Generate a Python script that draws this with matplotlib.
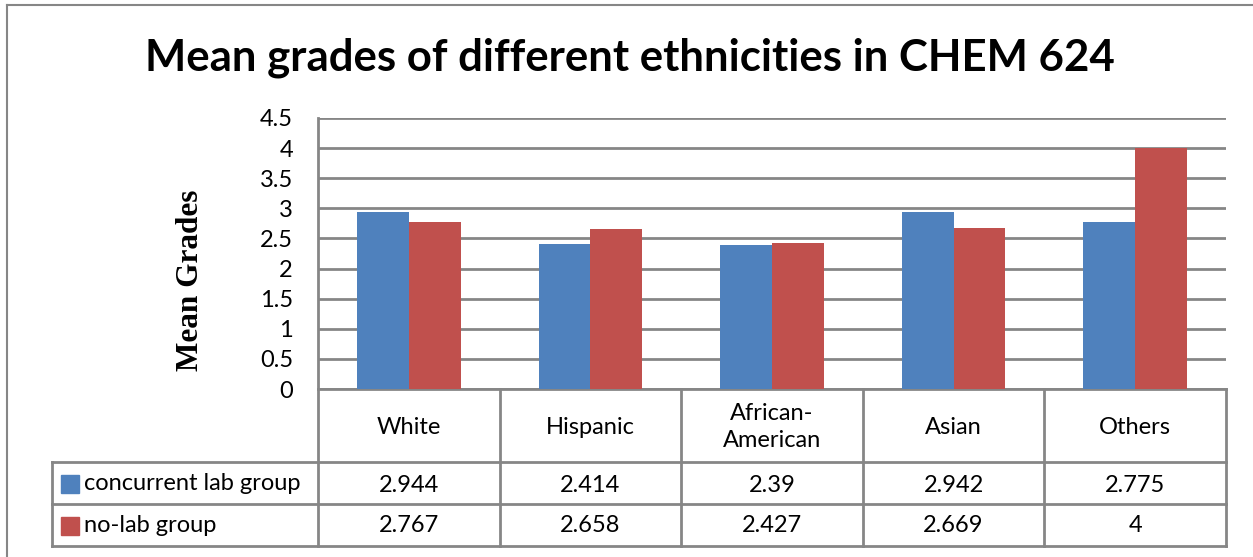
import matplotlib
matplotlib.use("Agg")
import matplotlib.pyplot as plt
from matplotlib.lines import Line2D
import numpy as np

categories = ["White", "Hispanic", "African-\nAmerican", "Asian", "Others"]
series_names = ["concurrent lab group", "no-lab group"]
concurrent = [2.944, 2.414, 2.39, 2.942, 2.775]
nolab = [2.767, 2.658, 2.427, 2.669, 4]
table_concurrent = ["2.944", "2.414", "2.39", "2.942", "2.775"]
table_nolab = ["2.767", "2.658", "2.427", "2.669", "4"]
yticks = [0, 0.5, 1, 1.5, 2, 2.5, 3, 3.5, 4, 4.5]
ytick_labels = ["0", "0.5", "1", "1.5", "2", "2.5", "3", "3.5", "4", "4.5"]

colors = ["#4F81BD", "#C0504D"]
grid_c = "#868686"
FONT = "Lato"
FS = 17

W, H = 1253, 557
fig = plt.figure(figsize=(W / 100, H / 100), dpi=100)
fig.patch.set_facecolor("white")

# overlay axes in pixel coords
ov = fig.add_axes([0, 0, 1, 1])
ov.set_xlim(0, W)
ov.set_ylim(H, 0)
ov.axis("off")

def px_rect(x0, y0, x1, y1):
    return [x0 / W, 1 - y1 / H, (x1 - x0) / W, (y1 - y0) / H]

# plot area
PL, PT, PR, PB = 318, 118, 1226, 389
ax = fig.add_axes(px_rect(PL, PT, PR, PB))
ax.set_zorder(2)
ax.patch.set_alpha(0)
x = np.arange(len(categories))
w = 1 / 3.5
ax.bar(x - w / 2, concurrent, w, color=colors[0], zorder=3)
ax.bar(x + w / 2, nolab, w, color=colors[1], zorder=3)
ax.set_xlim(-0.5, len(categories) - 0.5)
ax.set_ylim(0, 4.5)
ax.set_yticks(yticks)
ax.set_yticklabels(ytick_labels, fontsize=FS, family=FONT)
ax.set_xticks([])
ax.tick_params(axis="y", length=0, pad=18)
for s in ["top", "right", "bottom", "left"]:
    ax.spines[s].set_visible(False)
ax.yaxis.grid(True, color=grid_c, linewidth=2, zorder=0)
ax.set_axisbelow(True)

lc = dict(color=grid_c, linewidth=2, solid_capstyle="projecting")
# y-axis line extended through table
ov.add_line(Line2D([PL, PL], [PT, 546], **lc))
# x axis line
ov.add_line(Line2D([PL, PR], [PB, PB], **lc))
# category boundaries
bounds = np.linspace(PL, PR, len(categories) + 1)
for b in bounds[1:]:
    ov.add_line(Line2D([b, b], [PB, 546], **lc))
# table rows
TL = 52
for yy in [462, 504, 546]:
    ov.add_line(Line2D([TL, PR], [yy, yy], **lc))
ov.add_line(Line2D([TL, TL], [462, 546], **lc))

# outer border
ov.add_line(Line2D([7, 7], [H + 5, 5], color=grid_c, linewidth=1.5))
ov.add_line(Line2D([7, W + 5], [5, 5], color=grid_c, linewidth=1.5))

centers = (bounds[:-1] + bounds[1:]) / 2
for c, lab in zip(centers, categories):
    ov.text(c, 427, lab, ha="center", va="center", fontsize=FS, family=FONT,
            linespacing=1.3)
for c, v in zip(centers, table_concurrent):
    ov.text(c, 485, v, ha="center", va="center", fontsize=FS, family=FONT)
for c, v in zip(centers, table_nolab):
    ov.text(c, 526, v, ha="center", va="center", fontsize=FS, family=FONT)

# legend keys
for yc, col, name in [(484, colors[0], series_names[0]), (526, colors[1], series_names[1])]:
    ov.add_patch(plt.Rectangle((61, yc - 9), 18, 18, color=col))
    ov.text(84, yc, name, ha="left", va="center", fontsize=FS, family=FONT)

# title
ov.text(630, 58, "Mean grades of different ethnicities in CHEM 624", ha="center",
        va="center", fontsize=31.5, fontweight="bold", family=FONT)
# y label
ov.text(191, 280, "Mean Grades", rotation=90, ha="center", va="center",
        fontsize=22.5, fontweight="bold", family="Liberation Serif")

fig.savefig("out.png", dpi=100)
